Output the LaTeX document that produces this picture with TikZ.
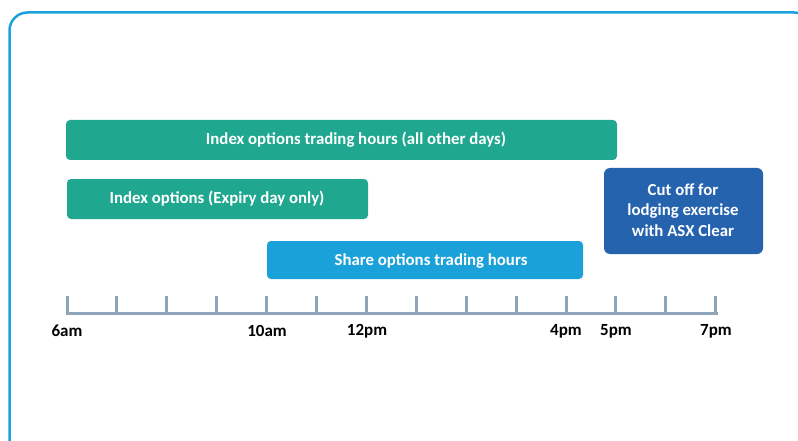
\documentclass[tikz,border=0pt]{standalone}
\usepackage{fontspec}
\setmainfont{Carlito}
\definecolor{frame}{HTML}{1BA1DC}
\definecolor{teal}{HTML}{1FA88F}
\definecolor{share}{HTML}{1BA1DA}
\definecolor{cut}{HTML}{2563AF}
\definecolor{axis}{HTML}{8EA4B8}
\begin{document}
\begin{tikzpicture}[x=1pt,y=-1pt,
  bar/.style={rounded corners=4pt, inner sep=0pt},
  bartext/.style={text=white, font=\bfseries\fontsize{16.8}{20.5}\selectfont, align=center},
  tick/.style={draw=axis, line width=3pt},
  lbl/.style={font=\bfseries\fontsize{17}{19}\selectfont, text=black}]
\useasboundingbox (0,0) rectangle (798,441);
\begin{scope}
\clip (0,0) rectangle (798,441);
\draw[frame, line width=2.5pt, rounded corners=18pt] (9.5,12.5) rectangle (812,470);
\end{scope}
% bars
\fill[teal, bar] (66,120) rectangle (617,160);
\node[bartext] (b1) at (356,140) {Index options trading hours (all other days)};
\fill[teal, bar] (67,179) rectangle (368,219);
\node[bartext] (b2) at (217,199) {Index options (Expiry day only)};
\fill[share, bar] (267,241) rectangle (583,279);
\node[bartext] (b3) at (431,261) {Share options trading hours};
\fill[cut, rounded corners=6pt] (604,168) rectangle (763,254);
\node[bartext] (b4) at (683,210) {Cut off for\\lodging exercise\\with ASX Clear};
% axis
\draw[tick, line cap=rect] (67,313) -- (716,313);
\foreach \i in {0,...,13} {
  \coordinate (t\i) at ({67+\i*49.9},313);
  \draw[tick] (t\i) -- ++(0,-17);
}
\node[lbl] (l6) at (67,331) {6am};
\node[lbl] (l10) at (267,331) {10am};
\node[lbl] (l12) at (367,331) {12pm};
\node[lbl] (l4) at (566,331) {4pm};
\node[lbl] (l5) at (616,331) {5pm};
\node[lbl] (l7) at (716,331) {7pm};
\end{tikzpicture}
\end{document}
